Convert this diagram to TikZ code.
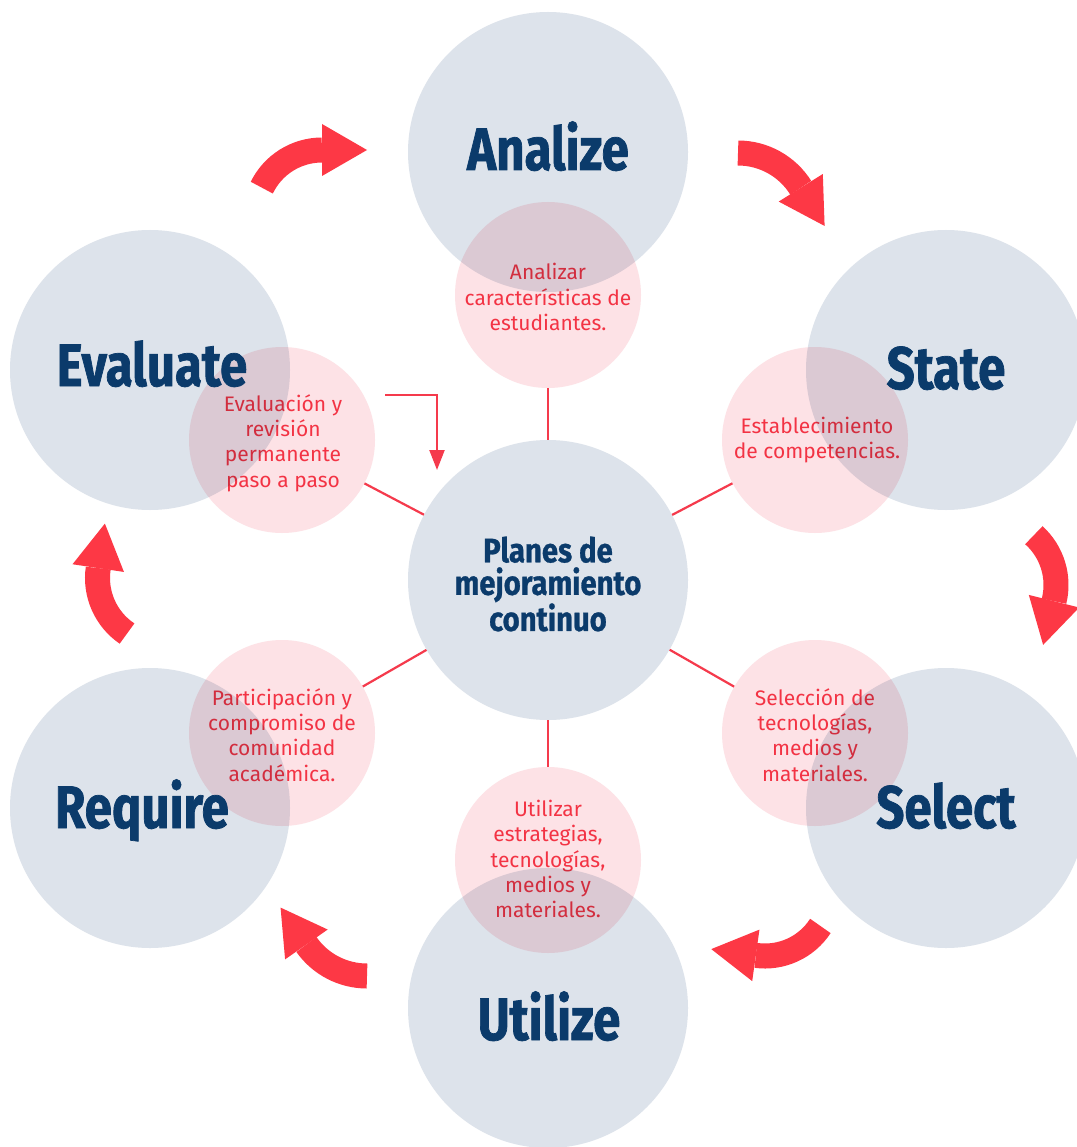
\documentclass[tikz,border=0pt]{standalone}
\usepackage{fontspec}
\setmainfont{Fira Sans}
\newfontfamily\labelfont[FakeStretch=0.82,FakeBold=1.2]{Fira Sans}
\newfontfamily\centerfont[FakeStretch=0.86,FakeBold=0.8]{Fira Sans}
\newfontfamily\smallfont[FakeStretch=1.0]{Fira Sans}
\usetikzlibrary{calc,arrows.meta}
\definecolor{cgray}{HTML}{DDE3EB}
\definecolor{cpink}{HTML}{FDE2E6}
\definecolor{cred}{HTML}{FD3845}
\definecolor{ctext}{HTML}{F53A4C}
\definecolor{cnavy}{HTML}{0B3B6B}
\tikzset{
  bigc/.style={circle,fill=cgray,minimum size=280pt,inner sep=0pt,draw=none},
  pinkc/.style={circle,fill=cpink,minimum size=186pt,inner sep=0pt,draw=none,blend mode=multiply},
  biglabel/.style={text=cnavy,font=\labelfont\bfseries\fontsize{60}{60}\selectfont,anchor=base,inner sep=0pt},
  centerlabel/.style={text=cnavy,font=\centerfont\bfseries\fontsize{34}{32.5}\selectfont,align=center,inner sep=0pt},
  pinklabel/.style={text=ctext,font=\smallfont\fontsize{21}{25.3}\selectfont,align=center,inner sep=0pt,blend mode=multiply},
  conn/.style={draw=ctext,line width=2.2pt},
  arrowshaft/.style={draw=cred,line width=25pt,line cap=butt},
  arrowfill/.style={fill=cred}
}
\newcommand\cyclearrow[5]{%
  \draw[arrowshaft] (#1,#2) ++(#4:#3) arc[start angle=#4,end angle=#5,radius=#3];
  \path (#1,#2) ++(#5:#3) coordinate (tmpE);
  \fill[arrowfill] ($(tmpE)+(#5:26)$) -- ($(tmpE)+(#5+90:45)$) -- ($(tmpE)+(#5:-26)$) -- cycle;
}
\begin{document}
\begin{tikzpicture}[x=1pt,y=-1pt]
\useasboundingbox (0,0) rectangle (1076,1147);
\fill[white] (0,0) rectangle (1076,1147);
% big circles
\node[bigc] (an) at (548,152) {};
\node[bigc] (st) at (946,370) {};
\node[bigc] (se) at (946,808) {};
\node[bigc] (ut) at (548,1008) {};
\node[bigc] (re) at (150,808) {};
\node[bigc] (ev) at (150,370) {};
\node[bigc] (ce) at (548,580) {};
% pink circles
\node[pinkc] (pan) at (548,295) {};
\node[pinkc] (pst) at (815,440) {};
\node[pinkc] (pse) at (815,733) {};
\node[pinkc] (put) at (548,860) {};
\node[pinkc] (pre) at (282,733) {};
\node[pinkc] (pev) at (282,440) {};
% connectors
\draw[conn] (ce) -- (pan);
\draw[conn] (ce) -- (pst);
\draw[conn] (ce) -- (pse);
\draw[conn] (ce) -- (put);
\draw[conn] (ce) -- (pre);
\draw[conn] (ce) -- (pev);
\coordinate (ea0) at (385,395);
\coordinate (ea1) at (437,470);
\draw[conn,-{Triangle[length=20pt,width=15pt]}] (ea0) -| (ea1);
% pink texts
\node[pinklabel] (tpan) at (548,297) {Analizar\\características de\\estudiantes.};
\node[pinklabel] (tpst) at (817,440) {Establecimiento\\de competencias.};
\node[pinklabel] (tpev) at (283,443) {Evaluación y\\revisión\\permanente\\paso a paso};
\node[pinklabel] (tpse) at (815,735) {Selección de\\tecnologías,\\medios y\\materiales.};
\node[pinklabel] (tput) at (548,859) {Utilizar\\estrategias,\\tecnologías,\\medios y\\materiales.};
\node[pinklabel] (tpre) at (282,735) {Participación y\\compromiso de\\comunidad\\académica.};
% curved arrows
\cyclearrow{322}{217}{67}{206}{270}
\cyclearrow{738}{227}{74}{270}{328}
\cyclearrow{989}{585}{67}{312}{374}
\cyclearrow{765}{890}{66}{33}{98}
\cyclearrow{367}{902}{74}{90}{145}
\cyclearrow{164.5}{578}{67}{124}{188.5}
% labels
\node[biglabel] (lan) at (548,170) {Analize};
\node[biglabel] (lst) at (946,389) {State};
\node[biglabel] (lse) at (946,828) {Select};
\node[biglabel] (lut) at (549,1040) {Utilize};
\node[biglabel] (lre) at (142,828) {Require};
\node[biglabel] (lev) at (152,386) {Evaluate};
\node[centerlabel] (lce) at (548,584) {Planes de\\mejoramiento\\continuo};
\end{tikzpicture}
\end{document}
